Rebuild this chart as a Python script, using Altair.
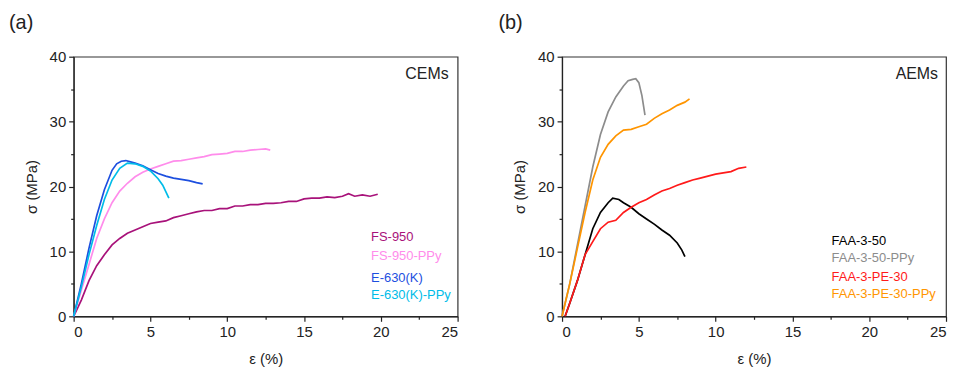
import altair as alt
import pandas as pd

# ---- Panel (a): CEMs ----
fs950_x = [0, 0.5, 1, 1.5, 2, 2.5, 3, 3.5, 4, 4.5, 5, 5.5, 6, 6.5, 7, 7.5, 8, 8.5, 9, 9.5, 10, 10.5, 11, 11.5, 12, 12.5, 13, 13.5, 14, 14.5, 15, 15.5, 16, 16.5, 17, 17.5, 17.9, 18.3, 18.8, 19.3, 19.8]
fs950_y = [0, 2.5, 5.5, 7.8, 9.5, 11, 12, 12.8, 13.3, 13.8, 14.3, 14.5, 14.7, 15.2, 15.5, 15.8, 16.1, 16.3, 16.3, 16.6, 16.6, 17, 17, 17.2, 17.2, 17.4, 17.4, 17.5, 17.7, 17.7, 18.1, 18.2, 18.2, 18.4, 18.3, 18.5, 18.9, 18.5, 18.7, 18.5, 18.8]

fsppy_x = [0, 0.5, 1, 1.5, 2, 2.5, 3, 3.5, 4, 4.5, 5, 5.5, 6, 6.5, 7, 7.5, 8, 8.5, 9, 9.5, 10, 10.5, 11, 11.5, 12, 12.5, 12.8]
fsppy_y = [0, 4, 8, 12, 15, 17.5, 19.3, 20.5, 21.5, 22.2, 22.7, 23.1, 23.5, 23.9, 24, 24.2, 24.4, 24.6, 24.9, 25, 25.1, 25.4, 25.4, 25.6, 25.7, 25.8, 25.6]

e630_x = [0, 0.5, 1, 1.5, 2, 2.5, 2.8, 3.1, 3.4, 3.7, 4, 4.5, 5, 5.5, 6, 6.5, 7, 7.5, 8, 8.4]
e630_y = [0, 5, 10.5, 15.5, 19.5, 22.5, 23.5, 23.9, 24, 23.8, 23.6, 23.2, 22.6, 22, 21.6, 21.3, 21.1, 20.9, 20.6, 20.4]

e630ppy_x = [0, 0.5, 1, 1.5, 2, 2.5, 3, 3.5, 4, 4.5, 5, 5.5, 5.8, 6.0, 6.2]
e630ppy_y = [0, 4.5, 9.5, 14, 18, 21, 22.8, 23.6, 23.5, 23.1, 22.4, 21.2, 20.2, 19.2, 18.2]

# ---- Panel (b): AEMs ----
faa_x = [0.2, 0.5, 1, 1.5, 2, 2.5, 3, 3.3, 3.7, 4, 4.5, 5, 5.5, 6, 6.5, 7, 7.5, 7.8, 8]
faa_y = [0, 2, 5.5, 9.5, 13.5, 16, 17.5, 18.2, 18, 17.5, 16.8, 15.8, 15, 14.2, 13.3, 12.5, 11.3, 10.2, 9.2]

faappy_x = [0, 0.5, 1, 1.5, 2, 2.5, 3, 3.5, 4, 4.3, 4.6, 4.8, 5.0, 5.2, 5.4]
faappy_y = [0, 5, 11, 17, 23, 28, 31.5, 33.8, 35.5, 36.3, 36.5, 36.6, 36, 34, 31]

pe_x = [0.2, 0.5, 1, 1.5, 2, 2.5, 3, 3.5, 4, 4.5, 5, 5.5, 6, 6.5, 7, 7.5, 8, 8.5, 9, 9.5, 10, 10.5, 11, 11.5, 12]
pe_y = [0, 2, 5.5, 9.5, 11.5, 13.5, 14.5, 14.8, 16, 16.8, 17.5, 18, 18.7, 19.3, 19.7, 20.2, 20.6, 21, 21.3, 21.6, 21.9, 22.1, 22.3, 22.8, 23]

peppy_x = [0, 0.5, 1, 1.5, 2, 2.5, 3, 3.5, 4, 4.5, 5, 5.5, 6, 6.5, 7, 7.5, 8, 8.3]
peppy_y = [0, 5, 10.5, 16, 21, 24.5, 26.5, 27.8, 28.7, 28.8, 29.2, 29.6, 30.5, 31.2, 31.8, 32.5, 33, 33.5]

series_a = ["FS-950", "FS-950-PPy", "E-630(K)", "E-630(K)-PPy"]
colors_a = ["#A8127A", "#FF8CEB", "#1D4FDF", "#00BCE8"]
data_a = [(fs950_x, fs950_y), (fsppy_x, fsppy_y), (e630_x, e630_y), (e630ppy_x, e630ppy_y)]

series_b = ["FAA-3-50", "FAA-3-50-PPy", "FAA-3-PE-30", "FAA-3-PE-30-PPy"]
colors_b = ["#000000", "#8C8C8C", "#FF1A1A", "#FF9500"]
data_b = [(faa_x, faa_y), (faappy_x, faappy_y), (pe_x, pe_y), (peppy_x, peppy_y)]

x_ticks = [0, 2.5, 5, 7.5, 10, 12.5, 15, 17.5, 20, 22.5, 25]
y_ticks = [0, 5, 10, 15, 20, 25, 30, 35, 40]

FONT = "Liberation Sans"
W, H = 386, 261


def make_df(names, data):
    rows = []
    for n, (xs, ys) in zip(names, data):
        for i, (a, b) in enumerate(zip(xs, ys)):
            rows.append({"series": n, "x": a, "y": b, "order": i})
    return pd.DataFrame(rows)


def panel(names, colors, data, tag, group_label, legend_x, legend_ys, tag_x, grp_x):
    df = make_df(names, data)
    xaxis = alt.Axis(values=x_ticks, labelExpr="datum.value % 5 === 0 ? datum.label : ''",
                     tickSize={"condition": {"test": "datum.value % 5 !== 0", "value": 3}, "value": 5},
                     grid=False, title="ε (%)", titlePadding=12)
    yaxis = alt.Axis(values=y_ticks, labelExpr="datum.value % 10 === 0 ? datum.label : ''",
                     tickSize={"condition": {"test": "datum.value % 10 !== 0", "value": 3}, "value": 5},
                     grid=False, title="σ (MPa)", titlePadding=10)
    cscale = alt.Scale(domain=names, range=colors)
    lines = alt.Chart(df).mark_line(strokeWidth=1.7).encode(
        x=alt.X("x:Q", scale=alt.Scale(domain=[0, 25], nice=False), axis=xaxis),
        y=alt.Y("y:Q", scale=alt.Scale(domain=[0, 40], nice=False), axis=yaxis),
        color=alt.Color("series:N", scale=cscale, legend=None),
        order="order:Q",
        detail="series:N",
    )
    lab_df = pd.DataFrame({"series": names, "ypix": legend_ys})
    labels = alt.Chart(lab_df).mark_text(align="left", baseline="middle", fontSize=13, font=FONT).encode(
        x=alt.value(legend_x),
        y=alt.Y("ypix:Q", scale=None),
        text="series:N",
        color=alt.Color("series:N", scale=cscale, legend=None),
    )
    grp = alt.Chart(pd.DataFrame({"t": [group_label]})).mark_text(
        align="right", baseline="middle", fontSize=16, font=FONT, color="#222").encode(
        x=alt.value(grp_x), y=alt.value(17), text="t:N")
    tagc = alt.Chart(pd.DataFrame({"t": [tag]})).mark_text(
        align="left", baseline="middle", fontSize=20, font=FONT, color="#222").encode(
        x=alt.value(tag_x), y=alt.value(-34), text="t:N")
    return alt.layer(lines, labels, grp, tagc).properties(width=W, height=H)


pa = panel(series_a, colors_a, data_a, "(a)", "CEMs", 299, [181, 200, 222, 240], -65, 377)
pb = panel(series_b, colors_b, data_b, "(b)", "AEMs", 271, [185, 202, 221, 239], -64, 378)

chart = alt.hconcat(pa, pb, spacing=38).resolve_scale(color="independent").properties(
    padding={"left": 0, "top": 3, "right": 0, "bottom": 0}
).configure_view(
    stroke="#333", strokeWidth=1.2
).configure_axis(
    domainColor="#222", tickColor="#222", labelColor="#222", titleColor="#222",
    labelFont=FONT, titleFont=FONT, labelFontSize=15, titleFontSize=15,
    titleFontWeight="normal", labelPadding=3, domainWidth=1.2, tickWidth=1.2
)

chart.save("out.html", embed_options={"renderer": "svg", "actions": False})
